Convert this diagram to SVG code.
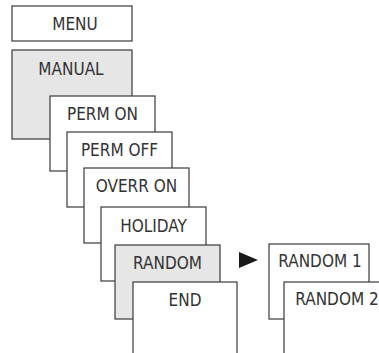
<svg xmlns="http://www.w3.org/2000/svg" width="379" height="353" viewBox="0 0 379 353">
<style>
.b{fill:#fff;stroke:#3a3a3a;stroke-width:1.2}
.g{fill:#e6e6e6;stroke:#3a3a3a;stroke-width:1.2}
.t{font-family:"DejaVu Sans Condensed","DejaVu Sans",sans-serif;font-stretch:condensed;font-size:17px;fill:#333;text-anchor:middle}
</style>
<rect width="379" height="353" fill="#fff"/>
<g id="menu"><rect class="b" x="12" y="6" width="120" height="35"/><text class="t" x="75" y="30">MENU</text></g>
<g id="manual"><rect class="g" x="12" y="50" width="120" height="89"/><text class="t" x="71" y="75">MANUAL</text></g>
<g id="permon"><rect class="b" x="50" y="96" width="105" height="75"/><text class="t" x="102.5" y="120">PERM ON</text></g>
<g id="permoff"><rect class="b" x="67" y="132" width="105" height="75"/><text class="t" x="119.5" y="156">PERM OFF</text></g>
<g id="overron"><rect class="b" x="84" y="168" width="105" height="75"/><text class="t" x="136.5" y="192">OVERR ON</text></g>
<g id="holiday"><rect class="b" x="101" y="207" width="105" height="74"/><text class="t" x="153.5" y="232">HOLIDAY</text></g>
<g id="random"><rect class="g" x="115" y="245" width="105" height="74"/><text class="t" x="167.5" y="269">RANDOM</text></g>
<g id="end"><rect class="b" x="133" y="282" width="104" height="80"/><text class="t" x="185" y="306">END</text></g>
<g id="connectors"><polygon points="239,252 258,260 239,268" fill="#1a1a1a"/></g>
<g id="random1"><rect class="b" x="269" y="244" width="100" height="75"/><text class="t" x="320" y="267">RANDOM 1</text></g>
<g id="random2"><rect class="b" x="284" y="282" width="106" height="80"/><text class="t" x="337" y="305">RANDOM 2</text></g>
</svg>
